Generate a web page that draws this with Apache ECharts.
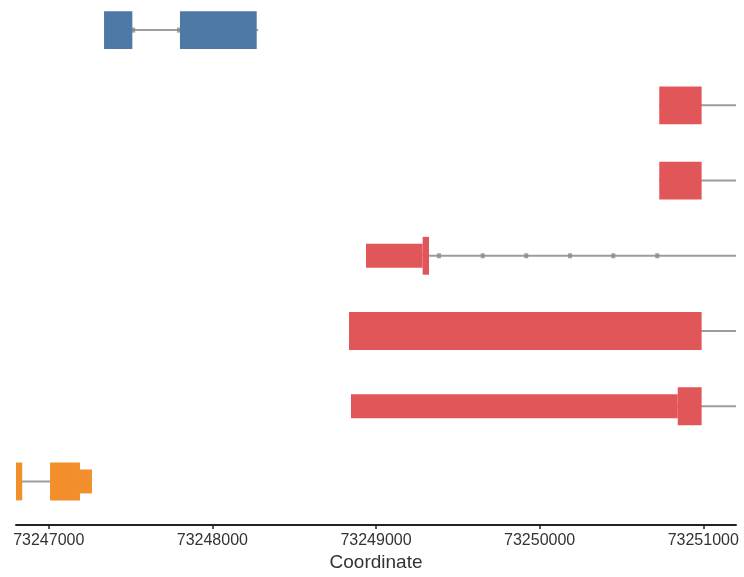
<!DOCTYPE html>
<html>
<head>
<meta charset="utf-8">
<title>Transcript structures</title>
<script src="https://cdn.jsdelivr.net/npm/echarts@6.0.0/dist/echarts.min.js"></script>
<style>
  html, body { margin: 0; padding: 0; background: #ffffff; }
  #chart { width: 744px; height: 577px; }
</style>
</head>
<body>
<div id="chart"></div>
<script>
// Genomic window and axis ticks
const coordMin = 73246800;
const coordMax = 73251200;
const tickValues = [73247000, 73248000, 73249000, 73250000, 73251000];

// Track (row) colours: one per transcript row, top to bottom
const trackColors = ['#4e79a7', '#e15759', '#e15759', '#e15759', '#e15759', '#e15759', '#f28e2b'];

// Transcript backbone lines (row, start, end)
const lineRow   = [0, 1, 2, 3, 4, 5, 6];
const lineStart = [73247338, 73250731, 73250731, 73248939, 73248835, 73248847, 73246800];
const lineEnd   = [73248280, 73251200, 73251200, 73251200, 73251200, 73251200, 73247264];

// Exon blocks (row, start, end, coding: 1 = tall block, 0 = thin block)
const exonRow    = [0, 0, 1, 2, 3, 3, 4, 5, 5, 6, 6, 6];
const exonStart  = [73247338, 73247802, 73250731, 73250731, 73248939, 73249285, 73248835, 73248847, 73250844, 73246800, 73247008, 73247191];
const exonEnd    = [73247511, 73248271, 73250990, 73250990, 73249285, 73249324, 73250990, 73250844, 73250990, 73246838, 73247191, 73247264];
const exonCoding = [1, 1, 1, 1, 0, 1, 1, 0, 1, 1, 1, 0];

// Strand direction markers along introns (row, position)
const arrowRow = [0, 0, 3, 3, 3, 3, 3, 3];
const arrowPos = [73247516, 73247796, 73249385, 73249652, 73249918, 73250186, 73250450, 73250719];

const lineData = lineRow.map((r, i) => [lineStart[i], lineEnd[i], r]);
const exonData = exonRow.map((r, i) => [exonStart[i], exonEnd[i], r, exonCoding[i]]);
const arrowData = arrowRow.map((r, i) => [arrowPos[i], r]);

const chart = echarts.init(document.getElementById('chart'), null, { renderer: 'canvas' });

chart.setOption({
  animation: false,
  backgroundColor: '#ffffff',
  grid: { left: 16, right: 8, top: 0, bottom: 50, containLabel: false },
  xAxis: {
    type: 'value',
    position: 'bottom',
    min: coordMin,
    max: coordMax,
    name: 'Coordinate',
    nameLocation: 'middle',
    nameGap: 26,
    nameTextStyle: { fontFamily: 'Liberation Sans', fontSize: 19, color: '#333333' },
    splitLine: { show: false },
    axisLine: { show: true, onZero: false, lineStyle: { color: '#222222', width: 2 } },
    axisTick: { show: true, length: 4, customValues: tickValues, lineStyle: { color: '#222222', width: 1.5 } },
    axisLabel: {
      customValues: tickValues,
      margin: 7,
      fontFamily: 'Liberation Sans',
      fontSize: 16,
      color: '#333333',
      formatter: v => String(v)
    }
  },
  yAxis: {
    type: 'value',
    min: -0.4,
    max: 6.58,
    inverse: true,
    show: false
  },
  series: [
    {
      type: 'custom',
      name: 'backbone',
      data: lineData,
      encode: { x: [0, 1], y: 2 },
      renderItem: (params, api) => {
        const row = api.value(2);
        const p0 = api.coord([api.value(0), row]);
        const p1 = api.coord([api.value(1), row]);
        return {
          type: 'line',
          shape: { x1: p0[0], y1: p0[1], x2: p1[0], y2: p1[1] },
          style: { stroke: '#9c9c9c', lineWidth: 2 }
        };
      },
      z: 1
    },
    {
      type: 'scatter',
      name: 'strand',
      data: arrowData,
      symbol: 'rect',
      symbolSize: [4, 5],
      itemStyle: { color: '#8a8a8a' },
      z: 2
    },
    {
      type: 'custom',
      name: 'exons',
      data: exonData,
      encode: { x: [0, 1], y: 2 },
      renderItem: (params, api) => {
        const row = api.value(2);
        const p0 = api.coord([api.value(0), row]);
        const p1 = api.coord([api.value(1), row]);
        const h = api.size([0, api.value(3) ? 0.503 : 0.318])[1];
        return {
          type: 'rect',
          shape: { x: p0[0], y: p0[1] - h / 2, width: p1[0] - p0[0], height: h },
          style: { fill: trackColors[row] }
        };
      },
      z: 3
    }
  ]
});
</script>
</body>
</html>
